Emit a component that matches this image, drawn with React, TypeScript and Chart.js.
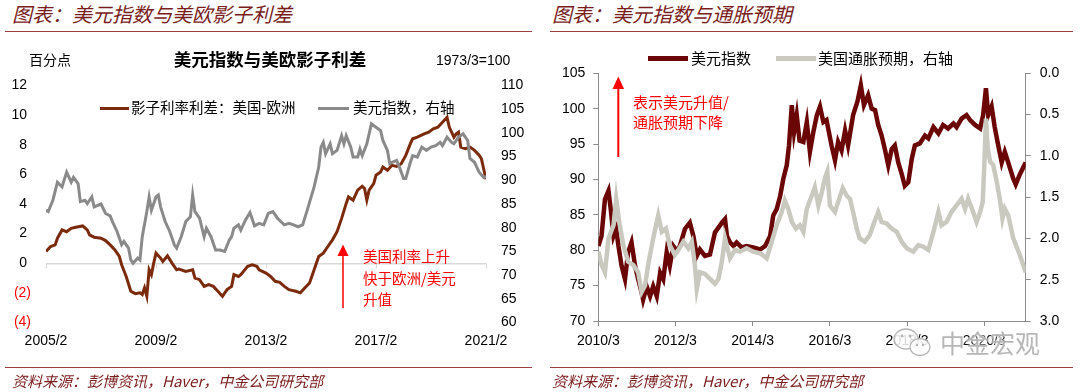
import React, { useEffect, useRef } from "react";
import { Chart, registerables } from "chart.js";

Chart.register(...registerables);

// ---------------- Left chart data (monthly, base 2005/2) ----------------
const leftXTickLabels = ["2005/2", "2009/2", "2013/2", "2017/2", "2021/2"];

const spreadMonths = [
  "2005/2", "2005/4", "2005/6", "2005/7", "2005/9", "2005/11",
  "2006/1", "2006/3", "2006/6", "2006/8", "2006/9", "2006/11",
  "2007/2", "2007/4", "2007/6", "2007/8", "2007/10", "2007/11",
  "2008/1", "2008/3", "2008/5", "2008/7", "2008/8", "2008/9", "2008/10", "2008/11", "2008/12",
  "2009/1", "2009/2", "2009/4", "2009/5", "2009/7", "2009/9", "2009/11", "2009/12",
  "2010/3", "2010/6", "2010/7", "2010/9", "2010/11",
  "2011/1", "2011/3", "2011/5", "2011/7", "2011/9", "2011/11", "2011/12",
  "2012/2", "2012/3", "2012/6", "2012/8", "2012/10", "2012/11",
  "2013/2", "2013/4", "2013/6", "2013/8", "2013/10", "2013/12",
  "2014/3", "2014/5", "2014/7", "2014/9", "2014/11",
  "2015/1", "2015/3", "2015/5", "2015/7", "2015/9", "2015/11",
  "2016/1", "2016/2", "2016/4", "2016/6", "2016/8", "2016/9", "2016/10", "2016/11",
  "2017/1", "2017/2", "2017/4", "2017/5", "2017/7", "2017/9", "2017/11",
  "2018/1", "2018/3", "2018/5", "2018/6", "2018/8", "2018/11",
  "2019/1", "2019/3", "2019/5", "2019/7", "2019/9", "2019/10", "2019/12",
  "2020/1", "2020/2", "2020/3", "2020/5", "2020/7", "2020/9", "2020/11", "2020/12",
  "2021/2",
];
const spreadValues = [
  0.8, 1.13, 1.24, 1.69, 2.25, 2.13,
  2.36, 2.43, 2.52, 2.25, 1.91, 1.76,
  1.69, 1.53, 1.24, 0.91, 0.46, -0.1,
  -0.89, -1.89, -2.05, -2.0, -2.11, -1.66, -2.23, -0.44, -0.77,
  0.01, 0.68, 0.35, 0.12, 0.5, 0.01, -0.44, -0.39,
  -0.55, -0.44, -1.0, -1.11, -1.56,
  -1.44, -1.56, -1.89, -2.23, -1.78, -1.56, -0.77,
  -0.89, -0.77, -0.21, -0.1, -0.21, -0.44,
  -0.66, -0.89, -1.22, -1.29, -1.56, -1.78,
  -1.89, -2.0, -1.66, -1.33, -0.44,
  0.46, 0.68, 1.13, 1.58, 2.13, 3.03,
  4.04, 4.48, 4.26, 4.93, 5.2, 5.05, 4.26, 4.93,
  5.38, 5.94, 6.16, 6.5, 6.28, 6.61, 6.54,
  6.72, 7.28, 8.07, 8.4, 8.51, 8.74,
  8.85, 9.07, 9.18, 9.52, 9.85, 9.18, 8.51,
  8.74, 8.85, 7.84, 7.73, 7.84, 7.62, 7.3, 7.05,
  5.67,
];

const dollarMonths = [
  "2005/2", "2005/3", "2005/5", "2005/7", "2005/9", "2005/11",
  "2006/1", "2006/2", "2006/4", "2006/5", "2006/7", "2006/8", "2006/10", "2006/11",
  "2007/2", "2007/4", "2007/6", "2007/7", "2007/9", "2007/11", "2007/12",
  "2008/2", "2008/3", "2008/4", "2008/6", "2008/7", "2008/8", "2008/10", "2008/11", "2008/12",
  "2009/2", "2009/3", "2009/4", "2009/6", "2009/8", "2009/10", "2009/11",
  "2010/1", "2010/3", "2010/5", "2010/6", "2010/7", "2010/9", "2010/11", "2010/12",
  "2011/2", "2011/4", "2011/6", "2011/8", "2011/10", "2011/11", "2011/12",
  "2012/2", "2012/3", "2012/5", "2012/7", "2012/9", "2012/11",
  "2013/1", "2013/3", "2013/5", "2013/7", "2013/10", "2013/12",
  "2014/2", "2014/4", "2014/6", "2014/8", "2014/11",
  "2015/1", "2015/2", "2015/3", "2015/4", "2015/6", "2015/7", "2015/9", "2015/11", "2015/12",
  "2016/1", "2016/3", "2016/4", "2016/6", "2016/7", "2016/8", "2016/10", "2016/12",
  "2017/2", "2017/4", "2017/5", "2017/7", "2017/8", "2017/9", "2017/11", "2017/12",
  "2018/2", "2018/3", "2018/5", "2018/6", "2018/8", "2018/10", "2018/12",
  "2019/2", "2019/4", "2019/6", "2019/7", "2019/9", "2019/11", "2019/12",
  "2020/2", "2020/4", "2020/6", "2020/7", "2020/9", "2020/11",
  "2021/1", "2021/2",
];
const dollarValues = [
  83.7, 83.4, 85.8, 89.6, 88.6, 91.7,
  89.6, 90.6, 89.3, 85.5, 85.8, 85.1, 86.5, 84.4,
  85.0, 83.0, 82.5, 81.3, 79.2, 76.4, 77.1,
  75.7, 73.2, 72.5, 73.6, 73.2, 78.1, 83.4, 86.5, 83.7,
  86.5, 86.9, 84.4, 81.3, 79.2, 76.4, 75.7,
  78.1, 81.3, 82.3, 86.9, 83.4, 82.0, 78.1, 79.9,
  78.1, 75.3, 75.3, 75.0, 77.4, 78.1, 79.9,
  80.6, 79.5, 81.6, 83.2, 80.4, 80.9,
  80.6, 83.0, 83.4, 82.0, 80.6, 80.9,
  80.6, 80.2, 80.6, 83.7, 88.6,
  92.8, 97.0, 98.0, 95.6, 97.7, 95.6, 96.3, 99.4, 97.7,
  99.4, 97.0, 94.9, 94.9, 96.6, 95.2, 97.7, 101.9,
  101.2, 100.5, 98.4, 96.3, 93.5, 93.8, 94.2, 93.1,
  90.4, 90.4, 93.8, 95.2, 94.9, 97.0, 96.3,
  97.0, 97.3, 98.0, 97.3, 99.1, 98.0, 97.7,
  99.1, 99.8, 98.4, 94.6, 93.8, 91.7,
  90.6, 90.8,
];

// ---------------- Right chart data (base 2010/3) ----------------
const rightXTickLabels = ["2010/3", "2012/3", "2014/3", "2016/3", "2018/3", "2020/3"];
const rightXEnd = "2021-03-28";

const dxyDates = [
  "2010-03-02", "2010-04-01", "2010-05-03", "2010-06-06", "2010-06-27", "2010-07-23", "2010-08-18", "2010-09-09", "2010-10-08", "2010-11-10", "2010-12-09",
  "2011-01-11", "2011-02-14", "2011-03-13", "2011-04-15", "2011-04-29", "2011-06-02", "2011-07-04", "2011-08-03", "2011-09-06", "2011-10-08", "2011-11-07", "2011-12-09",
  "2012-01-08", "2012-02-10", "2012-03-13", "2012-04-12", "2012-05-29", "2012-07-15", "2012-08-18", "2012-09-20", "2012-10-19", "2012-12-06",
  "2013-01-23", "2013-03-09", "2013-04-12", "2013-05-14", "2013-06-13", "2013-07-01", "2013-07-30", "2013-09-02", "2013-10-01", "2013-11-18",
  "2014-01-04", "2014-03-06", "2014-05-10", "2014-06-27", "2014-08-14", "2014-09-13", "2014-10-15", "2014-11-18", "2014-12-17",
  "2015-01-19", "2015-02-10", "2015-03-06", "2015-03-27", "2015-04-22", "2015-05-18", "2015-06-24", "2015-07-26", "2015-08-25", "2015-09-27", "2015-10-30", "2015-11-29",
  "2016-01-01", "2016-01-30", "2016-03-17", "2016-04-19", "2016-05-18", "2016-06-20", "2016-07-23", "2016-08-21", "2016-10-08", "2016-11-18", "2016-12-20",
  "2017-01-19", "2017-02-28", "2017-04-01", "2017-05-03", "2017-06-02", "2017-07-04", "2017-08-07", "2017-09-06", "2017-10-08", "2017-11-07", "2017-12-09",
  "2018-01-11", "2018-02-10", "2018-03-13", "2018-04-15", "2018-05-14", "2018-07-01", "2018-08-18", "2018-09-20", "2018-11-07", "2018-12-24",
  "2019-02-07", "2019-03-24", "2019-05-14", "2019-06-13", "2019-07-30", "2019-09-16", "2019-10-19", "2019-12-06",
  "2020-01-23", "2020-02-21", "2020-03-17", "2020-04-08", "2020-05-10", "2020-06-09", "2020-07-12", "2020-08-14", "2020-09-13", "2020-10-15", "2020-12-02", "2020-12-25",
  "2021-02-03", "2021-03-28",
];
const dxyValues = [
  80.6, 82.0, 87.2, 88.4, 85.8, 82.0, 83.0, 80.6, 77.8, 75.9, 79.7,
  81.1, 77.8, 75.9, 74.0, 73.0, 74.9, 73.5, 74.9, 73.5, 76.8, 75.9, 79.7,
  77.8, 80.6, 79.9, 80.6, 83.0, 83.9, 82.0, 79.2, 80.1, 79.2,
  79.4, 82.5, 83.2, 83.9, 84.4, 82.0, 81.1, 80.6, 81.1, 80.4,
  80.6, 80.4, 80.1, 80.6, 82.0, 84.9, 85.8, 87.7, 90.1,
  92.0, 94.8, 100.5, 96.7, 99.1, 95.5, 95.3, 98.1, 93.9, 96.7, 99.1, 100.3,
  98.1, 98.4, 94.8, 92.7, 95.3, 94.1, 96.9, 94.8, 99.1, 101.0, 103.3,
  100.5, 101.9, 100.0, 99.8, 97.7, 96.2, 94.1, 92.0, 94.3, 94.8, 92.4,
  90.8, 89.1, 89.6, 92.9, 94.8, 95.1, 96.2, 95.8, 97.4, 96.5,
  97.7, 97.2, 97.9, 97.4, 98.6, 99.1, 98.4, 97.7,
  97.2, 99.1, 102.9, 99.1, 100.3, 97.4, 94.8, 92.4, 93.9, 92.4, 90.1, 89.3,
  90.7, 92.4,
];

const beDates = [
  "2010-03-02", "2010-04-01", "2010-05-03", "2010-06-06", "2010-07-23", "2010-08-18", "2010-09-16", "2010-10-25", "2010-12-09",
  "2011-01-26", "2011-03-13", "2011-04-15", "2011-05-17", "2011-06-16", "2011-08-03", "2011-09-20", "2011-10-23", "2011-12-02",
  "2012-01-08", "2012-02-25", "2012-03-27", "2012-05-14", "2012-07-01", "2012-08-03", "2012-09-02", "2012-09-20", "2012-10-19", "2012-12-06",
  "2013-01-23", "2013-03-09", "2013-04-12", "2013-05-14", "2013-06-13", "2013-07-30", "2013-09-16", "2013-11-03",
  "2014-01-04", "2014-03-06", "2014-05-10", "2014-07-12", "2014-08-29", "2014-10-15", "2014-12-02",
  "2015-01-01", "2015-02-03", "2015-03-06", "2015-04-15", "2015-05-21", "2015-06-24", "2015-07-26", "2015-09-13", "2015-10-11", "2015-11-14", "2015-12-16",
  "2016-01-15", "2016-02-07", "2016-03-02", "2016-04-19", "2016-05-18", "2016-07-01", "2016-08-07", "2016-09-09", "2016-10-08", "2016-11-11", "2016-12-09",
  "2017-01-26", "2017-03-13", "2017-04-15", "2017-06-02", "2017-07-04", "2017-08-21", "2017-10-08", "2017-11-25",
  "2018-01-11", "2018-02-28", "2018-04-29", "2018-06-16", "2018-08-03", "2018-09-20", "2018-11-07", "2018-12-24",
  "2019-01-23", "2019-03-09", "2019-04-26", "2019-06-13", "2019-07-30", "2019-09-02", "2019-10-01", "2019-11-18", "2019-12-20",
  "2020-01-23", "2020-02-17", "2020-03-02", "2020-03-17", "2020-04-04", "2020-04-26", "2020-05-25", "2020-06-27", "2020-07-26", "2020-08-21", "2020-09-13", "2020-10-15", "2020-12-02",
  "2021-02-03", "2021-03-28",
];
const beValues = [
  2.16, 2.32, 2.41, 2.0, 1.84, 1.52, 1.8, 2.08, 2.28,
  2.32, 2.41, 2.65, 2.57, 2.32, 2.0, 1.72, 1.92, 1.88,
  2.08, 2.2, 2.14, 2.04, 2.12, 2.04, 2.32, 2.61, 2.41, 2.43,
  2.49, 2.55, 2.49, 2.28, 2.0, 2.24, 2.14, 2.16,
  2.12, 2.16, 2.18, 2.24, 2.04, 1.84, 1.68,
  1.54, 1.64, 1.8, 1.88, 1.84, 1.92, 1.64, 1.48, 1.38, 1.6, 1.44,
  1.27, 1.19, 1.6, 1.68, 1.56, 1.39, 1.48, 1.52, 1.68, 1.88, 2.0,
  2.04, 1.96, 1.84, 1.68, 1.8, 1.82, 1.88, 1.92,
  2.04, 2.12, 2.16, 2.08, 2.1, 2.14, 1.92, 1.68,
  1.84, 1.8, 1.68, 1.6, 1.52, 1.64, 1.52, 1.68, 1.8,
  1.68, 1.56, 1.11, 0.55, 0.91, 1.07, 1.11, 1.31, 1.52, 1.76, 1.64, 1.72, 2.0,
  2.2, 2.41,
];

// ---------------- helpers ----------------
const NUM = '"Liberation Sans", Arial, sans-serif';
const CJK = '"Noto Sans CJK SC", "Noto Sans", sans-serif';
const HEAD = "#7a1d1d";
const RULE = "#9b3f3f";

const leftIdx = (s: string) => {
  const [y, m] = s.split("/").map(Number);
  return (y - 2005) * 12 + (m - 2);
};
const rightIdx = (s: string) => {
  const p = s.split(/[-/]/).map(Number);
  const d = p.length > 2 ? p[2] : 1;
  return (p[0] - 2010) * 12 + (p[1] - 3) + (d - 1) / 30;
};

const zeroTicks = {
  id: "zeroTicks",
  beforeDatasetsDraw(chart: any) {
    const { ctx, scales } = chart;
    const y0 = scales.y.getPixelForValue(0);
    ctx.save();
    ctx.strokeStyle = "#d9d9d9";
    ctx.lineWidth = 1;
    scales.x.ticks.forEach((t: any) => {
      const x = Math.round(scales.x.getPixelForValue(t.value)) + 0.5;
      ctx.beginPath();
      ctx.moveTo(x, y0);
      ctx.lineTo(x, y0 + 5);
      ctx.stroke();
    });
    ctx.restore();
  },
};

function LeftChart() {
  const ref = useRef<HTMLCanvasElement>(null);
  useEffect(() => {
    const tickVals = leftXTickLabels.map(leftIdx);
    const font = { family: NUM, size: 14 };
    const chart = new Chart(ref.current as HTMLCanvasElement, {
      type: "line",
      data: {
        datasets: [
          {
            label: "影子利率利差：美国-欧洲",
            data: spreadMonths.map((m, i) => ({ x: leftIdx(m), y: spreadValues[i] })),
            yAxisID: "y",
            borderColor: "#7b2a0c",
            borderWidth: 3,
            pointRadius: 0,
            order: 1,
          },
          {
            label: "美元指数，右轴",
            data: dollarMonths.map((m, i) => ({ x: leftIdx(m), y: dollarValues[i] })),
            yAxisID: "y1",
            borderColor: "#8a8a8a",
            borderWidth: 3,
            pointRadius: 0,
            order: 0,
          },
        ],
      },
      options: {
        responsive: false,
        animation: false,
        layout: { padding: { top: 45.5, left: 0, right: 0, bottom: 0 } },
        plugins: { legend: { display: false }, tooltip: { enabled: false } },
        scales: {
          x: {
            type: "linear",
            min: tickVals[0],
            max: tickVals[tickVals.length - 1],
            grid: { display: false, drawTicks: false },
            border: { display: false },
            afterBuildTicks: (s: any) => {
              s.ticks = tickVals.map((v) => ({ value: v }));
            },
            ticks: {
              autoSkip: false,
              maxRotation: 0,
              padding: 10,
              color: "#000",
              font,
              callback: (_v: any, i: number) => leftXTickLabels[i],
            },
            afterFit: (s: any) => {
              s.height = 37.5;
            },
          },
          y: {
            position: "left",
            min: -4,
            max: 12,
            ticks: {
              stepSize: 2,
              padding: 15,
              font,
              color: (c: any) => (c.tick && c.tick.value < 0 ? "#ff0000" : "#000"),
              callback: (v: any) => (v < 0 ? `(${-v})` : `${v} `),
            },
            grid: {
              drawTicks: false,
              lineWidth: 1.5,
              color: (c: any) => (c.tick && c.tick.value === 0 ? "#d9d9d9" : "rgba(0,0,0,0)"),
            },
            border: { display: false },
            afterFit: (s: any) => {
              s.width = 46;
            },
          },
          y1: {
            position: "right",
            min: 60,
            max: 110,
            ticks: { stepSize: 5, padding: 15, font, color: "#000" },
            grid: { display: false, drawTicks: false },
            border: { display: false },
            afterFit: (s: any) => {
              s.width = 54;
            },
          },
        },
      } as any,
      plugins: [zeroTicks],
    });
    return () => chart.destroy();
  }, []);
  return (
    <canvas
      ref={ref}
      width={540}
      height={320}
      style={{ position: "absolute", left: 0, top: 40, width: 540, height: 320 }}
    />
  );
}

function RightChart() {
  const ref = useRef<HTMLCanvasElement>(null);
  useEffect(() => {
    const tickVals = rightXTickLabels.map(rightIdx);
    const font = { family: NUM, size: 14 };
    const axisColor = "#8c8c8c";
    const chart = new Chart(ref.current as HTMLCanvasElement, {
      type: "line",
      data: {
        datasets: [
          {
            label: "美元指数",
            data: dxyDates.map((d, i) => ({ x: rightIdx(d), y: dxyValues[i] })),
            yAxisID: "y",
            borderColor: "#6b0606",
            borderWidth: 4.5,
            pointRadius: 0,
            order: 1,
          },
          {
            label: "美国通胀预期，右轴",
            data: beDates.map((d, i) => ({ x: rightIdx(d), y: beValues[i] })),
            yAxisID: "y1",
            borderColor: "#c9c9c0",
            borderWidth: 4.5,
            pointRadius: 0,
            order: 0,
          },
        ],
      },
      options: {
        responsive: false,
        animation: false,
        layout: { padding: { top: 33.3, left: 0, right: 0, bottom: 0 } },
        plugins: { legend: { display: false }, tooltip: { enabled: false } },
        scales: {
          x: {
            type: "linear",
            min: tickVals[0],
            max: rightIdx(rightXEnd),
            grid: { drawOnChartArea: false, drawTicks: true, tickLength: 5, color: axisColor },
            border: { display: true, color: axisColor },
            afterBuildTicks: (s: any) => {
              s.ticks = tickVals.map((v) => ({ value: v }));
            },
            ticks: {
              autoSkip: false,
              maxRotation: 0,
              padding: 7,
              color: "#000",
              font,
              callback: (_v: any, i: number) => rightXTickLabels[i],
            },
            afterFit: (s: any) => {
              s.height = 39;
            },
          },
          y: {
            position: "left",
            min: 70,
            max: 105,
            ticks: { stepSize: 5, padding: 8, font, color: "#000" },
            grid: { drawOnChartArea: false, drawTicks: true, tickLength: 5, color: axisColor },
            border: { display: true, color: axisColor },
            afterFit: (s: any) => {
              s.width = 58.3;
            },
          },
          y1: {
            position: "right",
            reverse: true,
            min: 0,
            max: 3,
            ticks: {
              stepSize: 0.5,
              padding: 9,
              font,
              color: "#000",
              callback: (v: any) => Number(v).toFixed(1),
            },
            grid: { drawOnChartArea: false, drawTicks: true, tickLength: 5, color: axisColor },
            border: { display: true, color: axisColor },
            afterFit: (s: any) => {
              s.width = 54.3;
            },
          },
        },
      } as any,
    });
    return () => chart.destroy();
  }, []);
  return (
    <canvas
      ref={ref}
      width={540}
      height={320}
      style={{ position: "absolute", left: 540, top: 40, width: 540, height: 320 }}
    />
  );
}

type TP = {
  x: number;
  cy: number;
  size: number;
  color?: string;
  family?: string;
  weight?: number;
  italic?: boolean;
  center?: boolean;
  shadow?: string;
  children: React.ReactNode;
};
function T({ x, cy, size, color = "#000", family = CJK, weight = 400, italic = false, center = false, shadow, children }: TP) {
  const k = family === NUM ? 0.5 : 0.56;
  return (
    <div
      style={{
        position: "absolute",
        left: x,
        top: cy - size * k,
        fontSize: size,
        lineHeight: `${size}px`,
        color,
        fontFamily: family,
        fontWeight: weight,
        fontStyle: italic ? "italic" : "normal",
        whiteSpace: "nowrap",
        textShadow: shadow,
        transform: center ? "translateX(-50%)" : undefined,
      }}
    >
      {children}
    </div>
  );
}

function Bar({ x, y, w, h, color }: { x: number; y: number; w: number; h: number; color: string }) {
  return <div style={{ position: "absolute", left: x, top: y, width: w, height: h, background: color }} />;
}

export default function App() {
  useEffect(() => {
    document.body.style.margin = "0";
  }, []);
  return (
    <div
      style={{
        position: "absolute",
        left: 0,
        top: 0,
        width: 1080,
        height: 392,
        background: "#fff",
        overflow: "hidden",
      }}
    >
      {/* headers */}
      <T x={12} cy={15.5} size={20} color={HEAD} italic>图表：美元指数与美欧影子利差</T>
      <T x={552} cy={15.5} size={20} color={HEAD} italic>图表：美元指数与通胀预期</T>
      <Bar x={5} y={30.5} w={527} h={1.5} color={RULE} />
      <Bar x={550} y={30.5} w={523} h={1.5} color={RULE} />

      <LeftChart />
      <RightChart />

      {/* left chart texts */}
      <T x={29} cy={60} size={14}>百分点</T>
      <T x={270} cy={60} size={17.5} weight={700} center>美元指数与美欧影子利差</T>
      <T x={436} cy={60} size={14} family={NUM}>1973/3=100</T>
      <Bar x={100} y={107} w={29} h={3} color="#7b2a0c" />
      <T x={131} cy={108.5} size={14.5}>影子利率利差：美国-欧洲</T>
      <Bar x={318} y={107} w={31} h={3} color="#8a8a8a" />
      <T x={353} cy={108.5} size={14.5}>美元指数，右轴</T>
      <T x={363} cy={257} size={14.5} color="#ff0000">美国利率上升</T>
      <T x={363} cy={279.5} size={14.5} color="#ff0000">快于欧洲/美元</T>
      <T x={363} cy={300.5} size={14.5} color="#ff0000">升值</T>

      {/* right chart texts */}
      <Bar x={648} y={56} w={40} h={5} color="#6b0606" />
      <T x={691} cy={58.5} size={15}>美元指数</T>
      <Bar x={776} y={56} w={40} h={5} color="#c9c9c0" />
      <T x={818} cy={58.5} size={15}>美国通胀预期，右轴</T>
      <T x={633} cy={102} size={15} color="#ff0000">表示美元升值/</T>
      <T x={633} cy={122.5} size={15} color="#ff0000">通胀预期下降</T>

      {/* arrows + watermark icon */}
      <svg
        width={1080}
        height={392}
        style={{ position: "absolute", left: 0, top: 0, pointerEvents: "none" }}
      >
        <line x1={343} y1={308} x2={343} y2={253} stroke="#ff0000" strokeWidth={1.5} />
        <polygon points="343,244.5 337.5,256 348.5,256" fill="#ff0000" />
        <line x1={618.3} y1={157} x2={618.3} y2={86} stroke="#ff0000" strokeWidth={2} />
        <polygon points="618.3,76.5 612.5,89 624.1,89" fill="#ff0000" />
        <ellipse cx={906} cy={339} rx={12} ry={10} fill="rgba(255,255,255,0.85)" stroke="#b5b5b5" strokeWidth={1.3} />
        <ellipse cx={920} cy={347} rx={10} ry={8.5} fill="rgba(255,255,255,0.85)" stroke="#b5b5b5" strokeWidth={1.3} />
        <circle cx={902} cy={336} r={1.4} fill="#b5b5b5" />
        <circle cx={910} cy={336} r={1.4} fill="#b5b5b5" />
        <circle cx={917} cy={345} r={1.2} fill="#b5b5b5" />
        <circle cx={923} cy={345} r={1.2} fill="#b5b5b5" />
      </svg>
      <T
        x={940}
        cy={344}
        size={25}
        color="rgba(165,165,165,0.8)"
        shadow="0 0 2px rgba(255,255,255,0.95), 0 0 3px rgba(255,255,255,0.9)"
      >
        中金宏观
      </T>

      {/* footers */}
      <Bar x={5} y={366.5} w={527} h={1.5} color={RULE} />
      <Bar x={550} y={366.5} w={523} h={1.5} color={RULE} />
      <T x={12} cy={381} size={15} color={HEAD} italic>资料来源：彭博资讯，Haver，中金公司研究部</T>
      <T x={552} cy={381} size={15} color={HEAD} italic>资料来源：彭博资讯，Haver，中金公司研究部</T>
    </div>
  );
}
